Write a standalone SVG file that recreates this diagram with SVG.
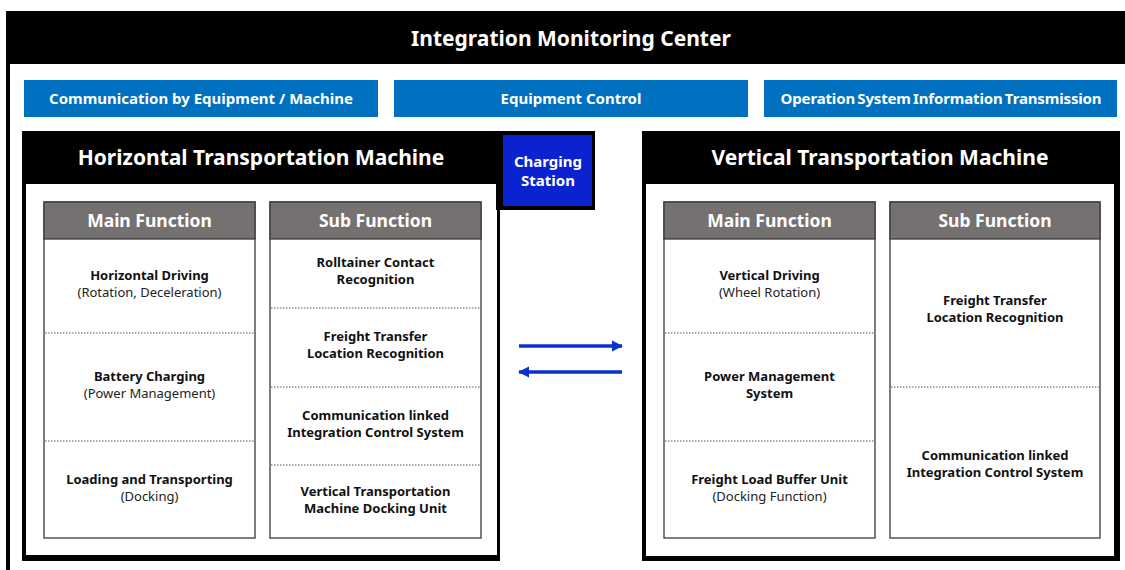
<svg xmlns="http://www.w3.org/2000/svg" width="1125" height="570" viewBox="0 0 1125 570">
  <style>
    .t { font-family: "Noto Sans", "Liberation Sans", sans-serif; text-anchor: middle; }
    .title { fill: #fff; font-weight: 700; font-size: 21px; }
    .bar { fill: #0070C0; }
    .barText { fill: #fff; font-weight: 700; font-size: 15px; }
    .machTitle { fill: #fff; font-weight: 700; font-size: 21px; }
    .tbl { fill: #fff; stroke: #3a3a3a; stroke-width: 1.3; }
    .head { fill: #767171; stroke: #3a3a3a; stroke-width: 1.3; }
    .headText { fill: #fff; font-weight: 700; font-size: 17.5px; }
    .item { fill: #111; font-weight: 700; font-size: 13px; }
    .note { fill: #222; font-weight: 400; font-size: 13px; }
    .sep { stroke: #555; stroke-width: 1; stroke-dasharray: 1.5 1.5; }
    .flow { stroke: #0A33CC; stroke-width: 3.5; fill: none; }
  </style>
  <defs>
    <marker id="head" viewBox="0 0 10 10" refX="9" refY="5" markerWidth="3.2" markerHeight="3.4" orient="auto" markerUnits="strokeWidth">
      <path d="M0,0 L10,5 L0,10 Z" fill="#0A33CC"/>
    </marker>
  </defs>

  <!-- outer frame -->
  <g id="center">
    <rect x="6" y="11" width="1125" height="570" fill="#000"/>
    <rect x="10" y="64" width="1120" height="510" fill="#fff"/>
    <text class="t title" x="571" y="46">Integration Monitoring Center</text>
  </g>

  <!-- top function bars -->
  <g id="bar-comm">
    <rect class="bar" x="24" y="80" width="354" height="37"/>
    <text class="t barText" x="201" y="104">Communication by Equipment / Machine</text>
  </g>
  <g id="bar-control">
    <rect class="bar" x="394" y="80" width="354" height="37"/>
    <text class="t barText" x="571" y="104">Equipment Control</text>
  </g>
  <g id="bar-ops">
    <rect class="bar" x="764" y="80" width="353" height="37"/>
    <text class="t barText" x="941" y="104" letter-spacing="-0.15" word-spacing="-1.5">Operation System Information Transmission</text>
  </g>

  <!-- horizontal transportation machine -->
  <g id="horizontal">
    <rect x="22" y="131" width="478" height="430" fill="#000"/>
    <rect x="26" y="184" width="471" height="371" fill="#fff"/>
    <text class="t machTitle" x="261" y="165">Horizontal Transportation Machine</text>

    <g id="h-main">
      <rect class="tbl" x="44" y="202" width="211" height="336"/>
      <rect class="head" x="44" y="202" width="211" height="37"/>
      <text class="t headText" x="149.5" y="227">Main Function</text>
      <line class="sep" x1="45" y1="333" x2="254" y2="333"/>
      <line class="sep" x1="45" y1="441" x2="254" y2="441"/>
      <text class="t item" x="149.5" y="280">Horizontal Driving</text>
      <text class="t note" x="149.5" y="297">(Rotation, Deceleration)</text>
      <text class="t item" x="149.5" y="381">Battery Charging</text>
      <text class="t note" x="149.5" y="398">(Power Management)</text>
      <text class="t item" x="149.5" y="484">Loading and Transporting</text>
      <text class="t note" x="149.5" y="501">(Docking)</text>
    </g>

    <g id="h-sub">
      <rect class="tbl" x="270" y="202" width="211" height="336"/>
      <rect class="head" x="270" y="202" width="211" height="37"/>
      <text class="t headText" x="375.5" y="227">Sub Function</text>
      <line class="sep" x1="271" y1="308" x2="480" y2="308"/>
      <line class="sep" x1="271" y1="387" x2="480" y2="387"/>
      <line class="sep" x1="271" y1="465" x2="480" y2="465"/>
      <text class="t item" x="375.5" y="267">Rolltainer Contact</text>
      <text class="t item" x="375.5" y="284">Recognition</text>
      <text class="t item" x="375.5" y="341">Freight Transfer</text>
      <text class="t item" x="375.5" y="358">Location Recognition</text>
      <text class="t item" x="375.5" y="420">Communication linked</text>
      <text class="t item" x="375.5" y="437">Integration Control System</text>
      <text class="t item" x="375.5" y="496">Vertical Transportation</text>
      <text class="t item" x="375.5" y="513">Machine Docking Unit</text>
    </g>
  </g>

  <!-- charging station -->
  <g id="charging">
    <rect x="496" y="131" width="99" height="79" fill="#000"/>
    <rect x="503" y="135" width="89" height="71" fill="#0A22CF"/>
    <text class="t" x="548" y="167" fill="#fff" font-weight="700" font-size="15">Charging</text>
    <text class="t" x="548" y="186" fill="#fff" font-weight="700" font-size="15">Station</text>
  </g>

  <!-- vertical transportation machine -->
  <g id="vertical">
    <rect x="642" y="131" width="478" height="430" fill="#000"/>
    <rect x="646" y="184" width="468" height="372" fill="#fff"/>
    <text class="t machTitle" x="880" y="165">Vertical Transportation Machine</text>

    <g id="v-main">
      <rect class="tbl" x="664" y="202" width="211" height="336"/>
      <rect class="head" x="664" y="202" width="211" height="37"/>
      <text class="t headText" x="769.5" y="227">Main Function</text>
      <line class="sep" x1="665" y1="333" x2="874" y2="333"/>
      <line class="sep" x1="665" y1="441" x2="874" y2="441"/>
      <text class="t item" x="769.5" y="280">Vertical Driving</text>
      <text class="t note" x="769.5" y="297">(Wheel Rotation)</text>
      <text class="t item" x="769.5" y="381">Power Management</text>
      <text class="t item" x="769.5" y="398">System</text>
      <text class="t item" x="769.5" y="484">Freight Load Buffer Unit</text>
      <text class="t note" x="769.5" y="501">(Docking Function)</text>
    </g>

    <g id="v-sub">
      <rect class="tbl" x="890" y="202" width="210" height="336"/>
      <rect class="head" x="890" y="202" width="210" height="37"/>
      <text class="t headText" x="995" y="227">Sub Function</text>
      <line class="sep" x1="891" y1="387" x2="1099" y2="387"/>
      <text class="t item" x="995" y="305">Freight Transfer</text>
      <text class="t item" x="995" y="322">Location Recognition</text>
      <text class="t item" x="995" y="460">Communication linked</text>
      <text class="t item" x="995" y="477">Integration Control System</text>
    </g>
  </g>

  <!-- exchange between the two machines -->
  <g id="connectors">
    <line class="flow" x1="519" y1="346" x2="622" y2="346" marker-end="url(#head)"/>
    <line class="flow" x1="622" y1="372" x2="519" y2="372" marker-end="url(#head)"/>
  </g>
</svg>
